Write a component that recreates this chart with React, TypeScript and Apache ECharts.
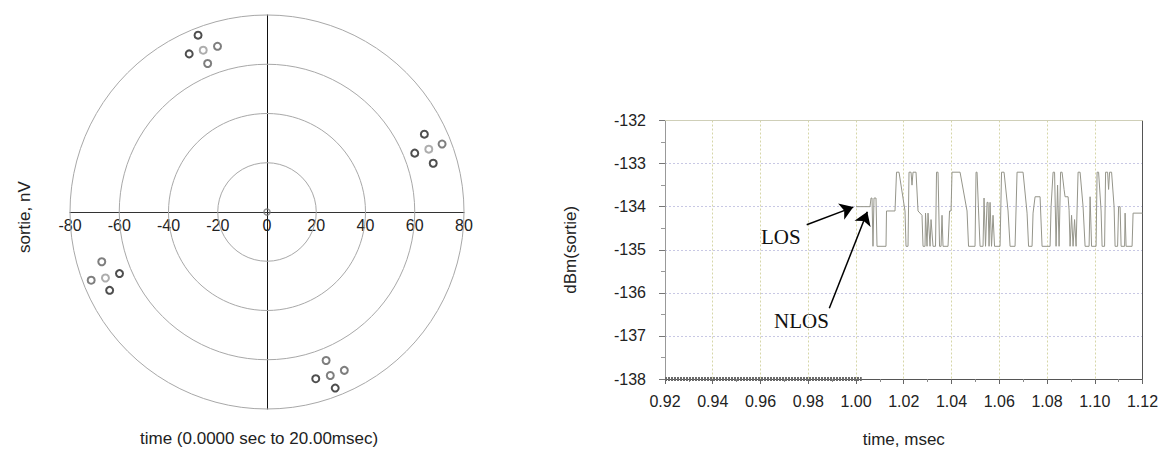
import React, { useEffect, useRef } from "react";
import * as echarts from "echarts";

// ---------- Left: polar constellation (values in nV) ----------
const ringRadii = [20, 40, 60, 80];
const polarDark = [
  [-28, 71.8], [-31.6, 64.2],
  [63.9, 31.6], [60.0, 23.9], [67.5, 19.8],
  [-59.9, -25.0], [-63.9, -31.8],
  [19.8, -67.7], [27.7, -71.5],
];
const polarMid = [
  [-20.1, 67.3], [-24.1, 60.3],
  [71.1, 27.6],
  [-67.1, -20.2], [-71.4, -27.7],
  [24.0, -60.3], [31.4, -64.3], [25.7, -66.4],
];
const polarLight = [[-25.9, 65.7], [65.7, 25.5], [-65.6, -26.8]];
const polarOrigin = [[0, 0]];
const polarXLabel = "time (0.0000 sec to 20.00msec)";
const polarYLabel = "sortie, nV";

// ---------- Right: dBm(sortie) vs time ----------
const floorTime = [0.92, 1.0024];
const floorDbm = [-138, -138];

const signalTime = [
  1.0, 1.00587, 1.00629, 1.00671, 1.00712, 1.00754, 1.00838, 1.0088, 1.01257, 1.01278,
  1.01634, 1.01697, 1.01802, 1.02053, 1.02095, 1.02179, 1.02221, 1.02305, 1.02346, 1.02388,
  1.02514, 1.02598, 1.02765, 1.02807, 1.02891, 1.02912, 1.02975, 1.03017, 1.03101, 1.03143,
  1.03226, 1.03331, 1.03373, 1.03436, 1.03499, 1.03562, 1.03603, 1.03645, 1.03855, 1.03918,
  1.03981, 1.04022, 1.04358, 1.04651, 1.04714, 1.04986, 1.05028, 1.0507, 1.05133, 1.05196,
  1.05321, 1.05363, 1.05426, 1.05489, 1.05531, 1.05573, 1.05615, 1.05677, 1.0574, 1.05803,
  1.06034, 1.06096, 1.06201, 1.06369, 1.06453, 1.06662, 1.06746, 1.06997, 1.07165, 1.07228,
  1.07374, 1.07416, 1.075, 1.0771, 1.07793, 1.08129, 1.08171, 1.08254, 1.08317, 1.0838,
  1.08443, 1.08506, 1.08569, 1.08631, 1.08715, 1.08757, 1.08883, 1.08925, 1.08967, 1.09029,
  1.09092, 1.09155, 1.09218, 1.09302, 1.09386, 1.09511, 1.09595, 1.09763, 1.09805, 1.09867,
  1.10056, 1.10098, 1.10161, 1.10266, 1.10307, 1.10412, 1.10454, 1.10538, 1.1058, 1.10622,
  1.10705, 1.1081, 1.10852, 1.10957, 1.10999, 1.11062, 1.11104, 1.1125, 1.11271, 1.11313,
  1.11564, 1.11606, 1.12,
];
const signalDbm = [
  -134.0, -134.0, -133.8, -133.8, -134.92, -133.8, -133.8, -134.92, -134.92, -134.1,
  -134.1, -133.2, -133.2, -134.1, -134.92, -134.92, -133.2, -133.2, -133.5, -133.2,
  -133.2, -134.1, -134.2, -134.92, -134.92, -134.15, -134.92, -134.15, -134.92, -134.3,
  -134.92, -134.92, -133.2, -133.2, -134.92, -134.92, -134.2, -134.92, -134.92, -134.1,
  -134.1, -133.2, -133.2, -134.1, -134.92, -134.92, -133.2, -133.2, -134.1, -134.92,
  -134.92, -133.8, -134.92, -133.9, -133.9, -134.92, -133.9, -134.92, -134.2, -134.92,
  -134.92, -133.2, -133.2, -134.1, -134.92, -134.92, -133.2, -133.2, -134.15, -134.92,
  -134.92, -134.15, -133.77, -133.77, -134.92, -134.92, -134.0, -133.2, -133.2, -134.92,
  -133.5, -134.92, -133.2, -133.2, -133.6, -133.77, -133.77, -134.08, -134.92, -134.2,
  -134.92, -134.3, -134.92, -133.2, -133.2, -134.0, -134.92, -134.92, -133.77, -134.92,
  -134.92, -133.2, -133.2, -134.1, -134.92, -134.92, -133.2, -133.2, -133.6, -133.2,
  -133.2, -134.0, -134.92, -134.92, -134.0, -134.0, -134.92, -134.92, -134.15, -134.92,
  -134.92, -134.15, -134.15,
];
const losArrow = [[0.97935, -134.42], [0.99887, -134.01]];
const nlosArrow = [[0.98882, -136.36], [1.00474, -134.12]];
const rightXName = "time, msec";
const rightYName = "dBm(sortie)";

const SANS = "Liberation Sans, Arial, sans-serif";
const SERIF = "Liberation Serif, Times New Roman, serif";

export default function App() {
  const ref = useRef<HTMLDivElement>(null);

  useEffect(() => {
    document.body.style.margin = "0";
    const chart = echarts.init(ref.current!, null, { renderer: "svg" });
    const zip = (a: number[], b: number[]) => a.map((v, i) => [v, b[i]]);
    const ringStyle = (color: string) => ({
      color: "transparent",
      borderColor: color,
      borderWidth: 2,
    });

    chart.setOption({
      animation: false,
      backgroundColor: "#ffffff",
      grid: [
        { left: 70, top: 15, width: 394, height: 394, show: false },
        { left: 665, top: 120.5, width: 477.5, height: 258.5, show: false },
      ],
      xAxis: [
        {
          gridIndex: 0,
          type: "value",
          min: -80,
          max: 80,
          interval: 20,
          offset: -197,
          axisLine: { onZero: false, lineStyle: { color: "#333", width: 1 } },
          axisTick: { show: false },
          axisLabel: { color: "#222", fontSize: 16, fontFamily: SANS, margin: 5 },
          splitLine: { show: false },
        },
        {
          gridIndex: 1,
          type: "value",
          min: 0.92,
          max: 1.12,
          interval: 0.02,
          name: rightXName,
          nameLocation: "middle",
          nameGap: 52,
          nameTextStyle: { color: "#222", fontSize: 17, fontFamily: SANS },
          axisLine: { onZero: false, lineStyle: { color: "#555" } },
          axisTick: { show: true, length: 5, lineStyle: { color: "#666" } },
          minorTick: { show: true, splitNumber: 2, length: 3, lineStyle: { color: "#888" } },
          axisLabel: {
            color: "#222",
            fontSize: 16,
            fontFamily: SANS,
            margin: 14,
            formatter: (v: number) => v.toFixed(2),
          },
          splitLine: { show: true, lineStyle: { color: "#d6d6a8", type: [2, 2], width: 1 } },
        },
        {
          gridIndex: 1,
          type: "value",
          position: "top",
          min: 0.92,
          max: 1.12,
          axisLine: { show: true, lineStyle: { color: "#cfcfb8" } },
          axisTick: { show: false },
          axisLabel: { show: false },
          splitLine: { show: false },
        },
      ],
      yAxis: [
        {
          gridIndex: 0,
          type: "value",
          min: -80,
          max: 80,
          interval: 20,
          offset: -197,
          axisLine: { show: true, onZero: false, lineStyle: { color: "#111", width: 1 } },
          axisTick: { show: false },
          axisLabel: { show: false },
          splitLine: { show: false },
        },
        {
          gridIndex: 1,
          type: "value",
          min: -138,
          max: -132,
          interval: 1,
          name: rightYName,
          nameLocation: "middle",
          nameGap: 86,
          nameTextStyle: { color: "#222", fontSize: 17, fontFamily: SANS },
          axisLine: { show: true, onZero: false, lineStyle: { color: "#999" } },
          axisTick: { show: true, length: 6, lineStyle: { color: "#777" } },
          minorTick: { show: true, splitNumber: 2, length: 4, lineStyle: { color: "#999" } },
          axisLabel: { color: "#222", fontSize: 16, fontFamily: SANS, margin: 19 },
          splitLine: { show: true, lineStyle: { color: "#c8c8e4", type: [2, 2], width: 1 } },
        },
        {
          gridIndex: 1,
          type: "value",
          position: "right",
          min: -138,
          max: -132,
          axisLine: { show: true, onZero: false, lineStyle: { color: "#555" } },
          axisTick: { show: false },
          axisLabel: { show: false },
          splitLine: { show: false },
        },
      ],
      graphic: [
        {
          type: "text",
          left: 140,
          top: 430,
          style: { text: polarXLabel, fill: "#222", font: `17px ${SANS}` },
        },
        {
          type: "text",
          x: 16,
          y: 253,
          rotation: Math.PI / 2,
          style: { text: polarYLabel, fill: "#222", font: `17px ${SANS}` },
        },
        {
          type: "text",
          x: 761,
          y: 226,
          style: { text: "LOS", fill: "#111", font: `21px ${SERIF}` },
        },
        {
          type: "text",
          x: 774,
          y: 310,
          style: { text: "NLOS", fill: "#111", font: `21px ${SERIF}` },
        },
      ],
      series: [
        {
          type: "custom",
          xAxisIndex: 0,
          yAxisIndex: 0,
          silent: true,
          z: 1,
          data: ringRadii.map((r) => [r, 0]),
          renderItem: (_p: any, api: any) => {
            const c = api.coord([0, 0]);
            const s = api.size([api.value(0), 0]);
            return {
              type: "circle",
              shape: { cx: c[0], cy: c[1], r: s[0] },
              style: { fill: "none", stroke: "#a8a8a8", lineWidth: 1 },
            };
          },
        },
        {
          type: "scatter",
          xAxisIndex: 0,
          yAxisIndex: 0,
          symbol: "circle",
          symbolSize: 7,
          itemStyle: ringStyle("#222"),
          data: polarDark,
          z: 3,
        },
        {
          type: "scatter",
          xAxisIndex: 0,
          yAxisIndex: 0,
          symbol: "circle",
          symbolSize: 7,
          itemStyle: ringStyle("#5e5e5e"),
          data: polarMid,
          z: 3,
        },
        {
          type: "scatter",
          xAxisIndex: 0,
          yAxisIndex: 0,
          symbol: "circle",
          symbolSize: 7,
          itemStyle: ringStyle("#999"),
          data: polarLight,
          z: 3,
        },
        {
          type: "scatter",
          xAxisIndex: 0,
          yAxisIndex: 0,
          symbol: "circle",
          symbolSize: 6,
          itemStyle: { color: "transparent", borderColor: "#777", borderWidth: 1.5 },
          data: polarOrigin,
          z: 3,
        },
        {
          type: "line",
          xAxisIndex: 1,
          yAxisIndex: 1,
          data: zip(floorTime, floorDbm),
          showSymbol: false,
          lineStyle: { color: "#6a6a6a", width: 4, type: [2, 1] },
          z: 3,
          markLine: {
            silent: true,
            symbol: ["none", "arrow"],
            symbolSize: 13,
            label: { show: false },
            lineStyle: { color: "#000", width: 1.5, type: "solid" },
            data: [
              [
                { coord: losArrow[0], symbol: "none" },
                { coord: losArrow[1], symbol: "arrow" },
              ],
              [
                { coord: nlosArrow[0], symbol: "none" },
                { coord: nlosArrow[1], symbol: "arrow" },
              ],
            ],
          },
        },
        {
          type: "line",
          xAxisIndex: 1,
          yAxisIndex: 1,
          data: zip(signalTime, signalDbm),
          showSymbol: false,
          lineStyle: { color: "#95958a", width: 1 },
          z: 2,
        },
      ],
    });

    return () => chart.dispose();
  }, []);

  return <div ref={ref} style={{ width: 1170, height: 455 }} />;
}
